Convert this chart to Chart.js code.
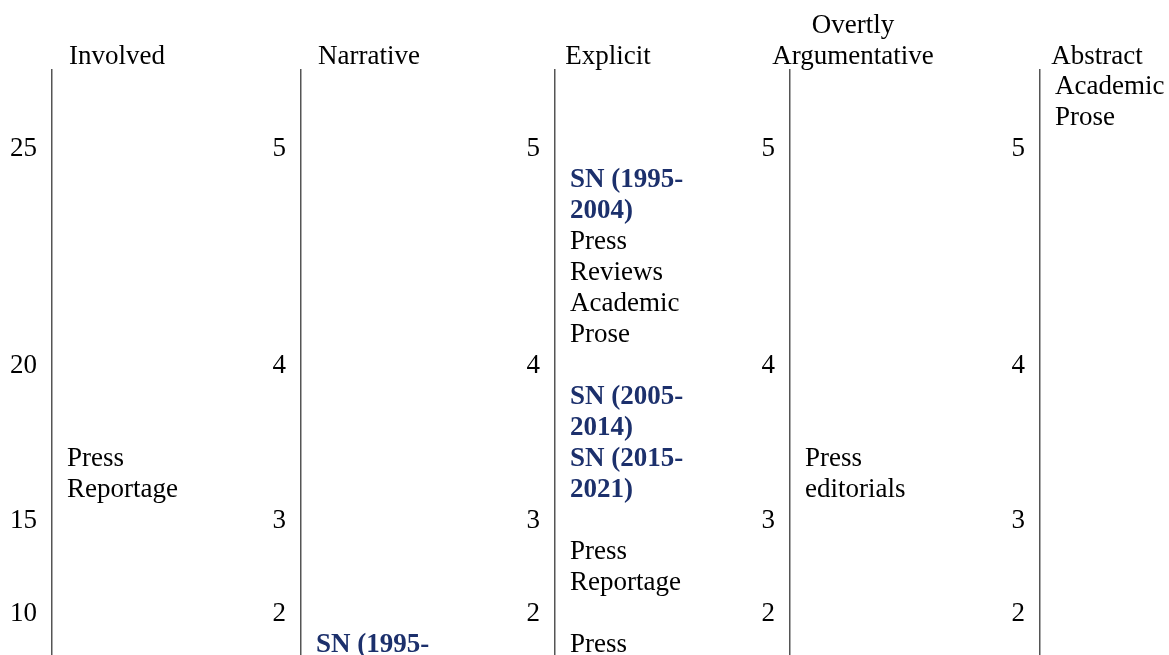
<!DOCTYPE html>
<html>
<head>
<meta charset="utf-8">
<script src="https://cdn.jsdelivr.net/npm/chart.js@4.4.0/dist/chart.umd.min.js"></script>
<style>
  html, body { margin: 0; padding: 0; background: #fff; overflow: hidden; }
  #wrap { width: 1169px; height: 655px; position: relative; }
</style>
</head>
<body>
<div id="wrap"><canvas id="dimChart"></canvas></div>
<script>
// column headers (dimensions)
var dimensions = ['Involved', 'Narrative', 'Explicit', 'Overtly Argumentative', 'Abstract'];

// tick labels of each dimension scale
var involvedTicks = [25, 20, 15, 10];
var narrativeTicks = [5, 4, 3, 2];
var explicitTicks = [5, 4, 3, 2];
var argumentativeTicks = [5, 4, 3, 2];
var abstractTicks = [5, 4, 3, 2];

// registers placed on each dimension and their (estimated) scores
var involvedItems = ['Press Reportage'];
var involvedScores = [17];
var narrativeItems = ['SN (1995-2004)'];
var narrativeScores = [1.8];
var explicitItems = ['SN (1995-2004)', 'Press Reviews', 'Academic Prose', 'SN (2005-2014)', 'SN (2015-2021)', 'Press Reportage', 'Press editorials'];
var explicitScores = [4.8, 4.5, 4.5, 3.8, 3.4, 2.5, 1.8];
var argumentativeItems = ['Press editorials'];
var argumentativeScores = [3.4];
var abstractItems = ['Academic Prose'];
var abstractScores = [5.6];

// layout / style
var FONT = '"Liberation Serif", "Times New Roman", serif';
var FS = 27;
var LINE = 31;            // px per text line (table row unit)
var NAVY = '#1c306c';
var colX = [52, 301, 555, 790, 1040];   // where each dimension axis sits
var headerX = [117, 369, 608, 853, 1097];
var TEXT_PAD = 15;        // gap between axis line and register names
var TICK_GAP = 15;        // gap between tick labels and axis line
var WRAP_W = 125;
var AREA_TOP = 70, H = 655;

var columns = [
  {ticks: involvedTicks, items: involvedItems, scores: involvedScores},
  {ticks: narrativeTicks, items: narrativeItems, scores: narrativeScores},
  {ticks: explicitTicks, items: explicitItems, scores: explicitScores},
  {ticks: argumentativeTicks, items: argumentativeItems, scores: argumentativeScores},
  {ticks: abstractTicks, items: abstractItems, scores: abstractScores}
];

var measureCtx = document.createElement('canvas').getContext('2d');
function isSN(s) { return s.indexOf('SN') === 0; }
function fontFor(s) { return (isSN(s) ? 'bold ' : '') + FS + 'px ' + FONT; }
function wrap(text, font) {
  measureCtx.font = font;
  var parts = text.match(/[^\s-]+-?\s*/g);
  var lines = [], cur = '';
  parts.forEach(function (p) {
    var test = cur + p;
    if (cur && measureCtx.measureText(test.trim()).width > WRAP_W) {
      lines.push(cur.trim());
      cur = p;
    } else {
      cur = test;
    }
  });
  if (cur) lines.push(cur.trim());
  return lines;
}
function round2(v) { return Math.round(v * 100) / 100; }

// table rows: one per tick level and one per distinct score level
var levels = {};
columns.forEach(function (c) {
  c.step = c.ticks[0] - c.ticks[1];
  c.wrapped = c.items.map(function (s) { return wrap(s, fontFor(s)); });
  c.ticks.forEach(function (t) { levels[round2(t / c.step)] = {tick: true}; });
  c.scores.forEach(function (s) {
    var l = round2(s / c.step);
    if (!levels[l]) levels[l] = {tick: false};
  });
});
var order = Object.keys(levels).map(Number).sort(function (a, b) { return b - a; });
var rowStart = {}, cursor = 0;
order.forEach(function (l) {
  var h = 1;
  if (!levels[l].tick) {
    h = 0;
    columns.forEach(function (c) {
      var n = 0;
      c.scores.forEach(function (s, k) { if (round2(s / c.step) === l) n += c.wrapped[k].length; });
      h = Math.max(h, n);
    });
  }
  rowStart[l] = cursor;
  cursor += h;
});
columns.forEach(function (c) {
  c.tickLines = c.ticks.map(function (t) { return rowStart[round2(t / c.step)]; });
  var used = {};
  c.itemLines = c.scores.map(function (s, k) {
    var l = round2(s / c.step);
    var off = used[l] || 0;
    used[l] = off + c.wrapped[k].length;
    return rowStart[l] + off;
  });
});

var yMin = -0.55;
var yMax = yMin + (H - AREA_TOP) / LINE;
var headerLines = dimensions.map(function (d) { return wrap(d, FS + 'px ' + FONT); });

var scales = {
  x: {
    type: 'linear', axis: 'x', position: 'top', min: 0, max: 1169,
    grid: {display: false, drawTicks: false},
    border: {display: false},
    afterBuildTicks: function (s) { s.ticks = headerX.map(function (v) { return {value: v}; }); },
    ticks: {
      autoSkip: false, maxRotation: 0, minRotation: 0, padding: -2, color: '#000',
      font: {family: FONT, size: FS, lineHeight: LINE + 'px'},
      callback: function (v, i) { return headerLines[i]; }
    }
  }
};
columns.forEach(function (c, i) {
  // the vertical line of the dimension
  scales['y' + i] = {
    type: 'linear', axis: 'y', reverse: true, min: yMin, max: yMax,
    position: {x: colX[i]},
    grid: {display: false, drawTicks: false},
    border: {display: true, color: '#555', width: 1.5},
    ticks: {display: false}
  };
  // its tick labels, set a little to the left of the line
  scales['t' + i] = {
    type: 'linear', axis: 'y', reverse: true, min: yMin, max: yMax,
    position: {x: colX[i] - TICK_GAP},
    grid: {display: false, drawTicks: false},
    border: {display: false},
    afterBuildTicks: function (s) {
      s.ticks = c.tickLines.filter(function (v) { return v <= yMax; }).map(function (v) { return {value: v}; });
    },
    ticks: {
      autoSkip: false, padding: 0, color: '#000',
      font: {family: FONT, size: FS, lineHeight: 0.02},
      callback: function (v, idx) { return String(c.ticks[idx]); }
    }
  };
});

var datasets = columns.map(function (c, i) {
  return {
    label: dimensions[i],
    yAxisID: 'y' + i,
    data: c.items.map(function (name, k) {
      return {x: colX[i] + TEXT_PAD, y: c.itemLines[k], name: name, lines: c.wrapped[k]};
    }),
    pointRadius: 0,
    pointHoverRadius: 0,
    showLine: false
  };
});

// draws the register names at their points
var labelPlugin = {
  id: 'registerLabels',
  afterDatasetsDraw: function (chart) {
    var ctx = chart.ctx;
    ctx.save();
    ctx.textAlign = 'left';
    ctx.textBaseline = 'middle';
    chart.data.datasets.forEach(function (ds) {
      var ys = chart.scales[ds.yAxisID];
      var xs = chart.scales.x;
      ds.data.forEach(function (p) {
        ctx.font = fontFor(p.name);
        ctx.fillStyle = isSN(p.name) ? NAVY : '#000';
        p.lines.forEach(function (t, j) {
          ctx.fillText(t, xs.getPixelForValue(p.x), ys.getPixelForValue(p.y + j));
        });
      });
    });
    ctx.restore();
  }
};

new Chart(document.getElementById('dimChart'), {
  type: 'scatter',
  data: {datasets: datasets},
  options: {
    responsive: true,
    maintainAspectRatio: false,
    animation: false,
    layout: {padding: {top: 12, left: 0, right: 0, bottom: 0}, autoPadding: false},
    plugins: {legend: {display: false}, tooltip: {enabled: false}},
    scales: scales
  },
  plugins: [labelPlugin]
});
</script>
</body>
</html>
